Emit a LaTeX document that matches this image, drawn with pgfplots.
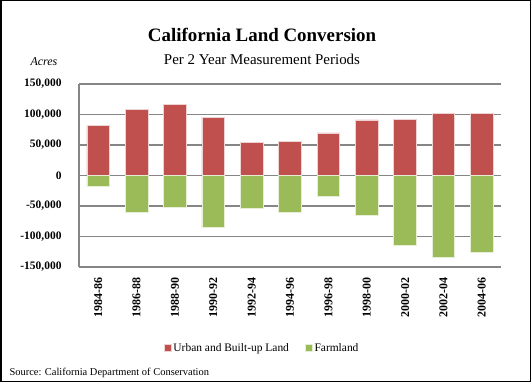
\documentclass[border=0pt]{standalone}
\usepackage{pgfplots}
\pgfplotsset{compat=1.18}
\usepackage{fontspec}
\setmainfont{Liberation Serif}
\definecolor{urb}{HTML}{C0504D}
\definecolor{farm}{HTML}{9BBB59}
\definecolor{oth}{HTML}{4F81BD}
\definecolor{gridc}{HTML}{868686}
\begin{document}
\begin{tikzpicture}[x=1bp,y=1bp]
\draw[line width=1.5bp] (0.75,0.75) rectangle (530.25,381.25);
\node[font=\fontsize{19}{22}\selectfont\bfseries] at (262,347) {California Land Conversion};
\node[font=\fontsize{15}{18}\selectfont] at (262,323) {Per 2 Year Measurement Periods};
\node[font=\fontsize{12}{14}\selectfont\itshape, anchor=west] at (27,320) {Acres};
\node[font=\fontsize{10.5}{12}\selectfont\rmfamily, anchor=west] at (6,9) {Source: California Department of Conservation};
\begin{axis}[
  at={(79bp,115bp)}, anchor=south west,
  scale only axis, width=422bp, height=183bp,
  xmin=-0.5, xmax=10.5,
  ymin=-150000, ymax=150000,
  scaled y ticks=false,
  ytick={-150000,-100000,-50000,0,50000,100000,150000},
  yticklabels={{-150,000},{-100,000},{-50,000},{0},{50,000},{100,000},{150,000}},
  xtick={0,...,10},
  xticklabels={1984-86,1986-88,1988-90,1990-92,1992-94,1994-96,1996-98,1998-00,2000-02,2002-04,2004-06},
  xticklabel style={rotate=90, anchor=east, font=\fontsize{12}{14}\selectfont\bfseries, xshift=-7bp},
  yticklabel style={font=\fontsize{11.5}{14}\selectfont\bfseries, anchor=east, xshift=-14bp},
  major tick length=0pt,
  axis lines*=left,
  axis line style={gridc, line width=1.2bp},
  ymajorgrids, major grid style={gridc, line width=1.2bp},
  x axis line style={draw=none},
  bar width=0.59,
  legend style={at={(0.434,-0.443)}, anchor=center, draw=none, legend columns=2,
    font=\fontsize{11.5}{14}\selectfont\rmfamily, /tikz/every even column/.append style={column sep=14bp}},
  legend image code/.code={\fill[#1] (0bp,-3.5bp) rectangle (7bp,3.5bp);},
]
\addplot[ybar, bar shift=0pt, fill=oth, draw=none, forget plot] coordinates {(0,83500)};
\addplot[ybar, bar shift=0pt, fill=urb, draw=white!75!urb, line width=0.6bp] coordinates {
(0,81800) (1,107800) (2,116000) (3,95900) (4,53900) (5,56000) (6,69700) (7,91000) (8,92600) (9,102400) (10,102400)};
\addlegendentry{Urban and Built-up Land}
\addplot[ybar, bar shift=0pt, fill=farm, draw=white!75!farm, line width=0.6bp] coordinates {
(0,-18000) (1,-60000) (2,-52300) (3,-85500) (4,-53900) (5,-60000) (6,-34800) (7,-64900) (8,-114900) (9,-133500) (10,-125300)};
\addlegendentry{Farmland}
\end{axis}
\end{tikzpicture}
\end{document}
